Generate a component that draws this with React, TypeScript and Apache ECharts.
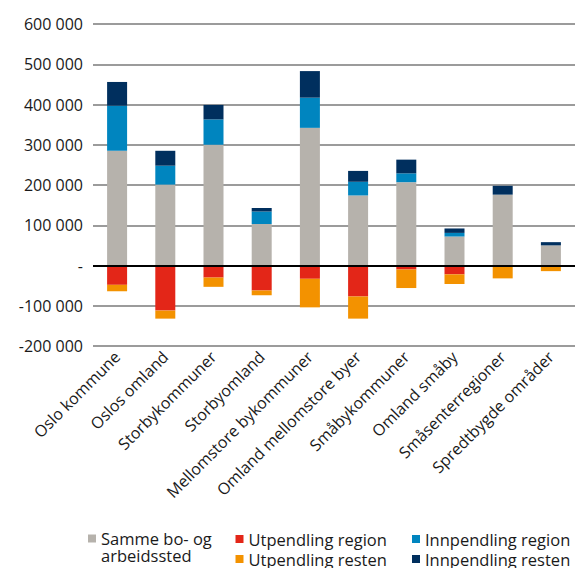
import React, { useEffect, useRef } from "react";
import * as echarts from "echarts";

const categories = [
  "Oslo kommune",
  "Oslos omland",
  "Storbykommuner",
  "Storbyomland",
  "Mellomstore bykommuner",
  "Omland mellomstore byer",
  "Småbykommuner",
  "Omland småby",
  "Småsenterregioner",
  "Spredtbygde områder",
];

const sammeBoArbeid = [285000, 201000, 300000, 103000, 342000, 174000, 207000, 72000, 176000, 50000];
const innpendlingRegion = [112000, 47000, 63000, 31000, 75000, 34000, 22000, 9000, 0, 0];
const innpendlingResten = [59000, 37000, 36000, 9000, 66000, 27000, 34000, 11000, 22000, 8000];
const utpendlingRegion = [-48000, -112000, -30000, -62000, -33000, -77000, -10000, -22000, 0, 0];
const utpendlingResten = [-16000, -20000, -23000, -12000, -71000, -55000, -46000, -24000, -32000, -14000];

const yTicks = [-200000, -100000, 0, 100000, 200000, 300000, 400000, 500000, 600000];

const FONT = "'Open Sans', 'Noto Sans', sans-serif";
const TEXT = "#1a1a1a";

const fmt = (v: number) => {
  if (v === 0) return "-";
  const s = Math.abs(v).toString().replace(/\B(?=(\d{3})+(?!\d))/g, " ");
  return (v < 0 ? "-" : "") + s;
};

export default function App() {
  const ref = useRef<HTMLDivElement>(null);
  useEffect(() => {
    if (!ref.current) return;
    const chart = echarts.init(ref.current, undefined, { renderer: "svg" });
    const legendText = { fontFamily: FONT, fontSize: 16.5, color: TEXT, lineHeight: 18 };
    chart.setOption({
      animation: false,
      grid: { left: 93, right: 1, top: 24, bottom: 222, containLabel: false },
      legend: [
        {
          data: ["Samme bo- og arbeidssted"],
          left: 88,
          top: 513,
          padding: 0,
          itemWidth: 8,
          itemHeight: 8,
          icon: "rect",
          formatter: () => " \nSamme bo- og\narbeidssted",
          textStyle: { ...legendText, lineHeight: 17 },
          selectedMode: false,
        },
        {
          data: ["Utpendling region", "Utpendling resten"],
          orient: "vertical",
          left: 235.5,
          top: 530,
          padding: 0,
          itemGap: 2,
          itemWidth: 8,
          itemHeight: 8,
          icon: "rect",
          textStyle: legendText,
          selectedMode: false,
        },
        {
          data: ["Innpendling region", "Innpendling resten"],
          orient: "vertical",
          left: 412,
          top: 530,
          padding: 0,
          itemGap: 2,
          itemWidth: 8,
          itemHeight: 8,
          icon: "rect",
          textStyle: legendText,
          selectedMode: false,
        },
      ],
      xAxis: {
        type: "category",
        data: categories,
        axisLine: { show: false, onZero: false },
        axisTick: { show: false },
        axisLabel: {
          rotate: 45,
          interval: 0,
          margin: 8,
          fontFamily: FONT,
          fontSize: 16,
          color: TEXT,
        },
      },
      yAxis: {
        type: "value",
        min: yTicks[0],
        max: yTicks[yTicks.length - 1],
        interval: 100000,
        axisLine: { show: false },
        axisTick: { show: false },
        splitLine: { lineStyle: { color: "#7a7a7a", width: 1.5 } },
        axisLabel: {
          margin: 10,
          fontFamily: FONT,
          fontSize: 16,
          color: TEXT,
          formatter: (v: number) => fmt(v),
        },
      },
      series: [
        {
          name: "Samme bo- og arbeidssted",
          type: "bar",
          stack: "a",
          barWidth: 20,
          data: sammeBoArbeid,
          itemStyle: { color: "#b6b2ac" },
          markLine: {
            silent: true,
            symbol: "none",
            label: { show: false },
            lineStyle: { color: "#000", width: 2, type: "solid" },
            data: [{ yAxis: 0 }],
            z: 10,
          },
        },
        {
          name: "Utpendling region",
          type: "bar",
          stack: "a",
          barWidth: 20,
          data: utpendlingRegion,
          itemStyle: { color: "#e32618" },
        },
        {
          name: "Utpendling resten",
          type: "bar",
          stack: "a",
          barWidth: 20,
          data: utpendlingResten,
          itemStyle: { color: "#f39200" },
        },
        {
          name: "Innpendling region",
          type: "bar",
          stack: "a",
          barWidth: 20,
          data: innpendlingRegion,
          itemStyle: { color: "#0085bf" },
        },
        {
          name: "Innpendling resten",
          type: "bar",
          stack: "a",
          barWidth: 20,
          data: innpendlingResten,
          itemStyle: { color: "#002f5e" },
        },
      ],
    });
    return () => chart.dispose();
  }, []);
  return <div ref={ref} style={{ width: 576, height: 568, position: "absolute", left: 0, top: 0 }} />;
}
